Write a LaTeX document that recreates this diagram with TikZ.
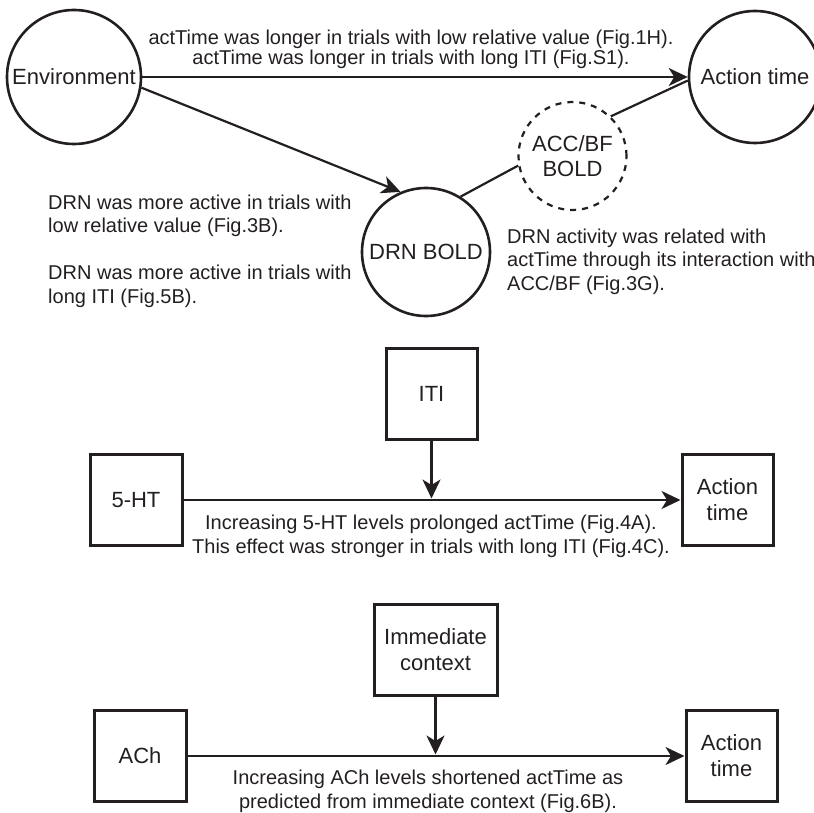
\documentclass[tikz,border=0pt]{standalone}
\usepackage{fontspec}
\setmainfont{Liberation Sans}
\usetikzlibrary{arrows.meta}

\definecolor{inkcol}{RGB}{35, 31, 32}
\definecolor{textcol}{RGB}{35, 31, 32}

\tikzset{
    bigcirc/.style={draw=inkcol, circle, line width=2.6pt, inner sep=0pt, minimum size=#1,
        font=\fontsize{22}{25}\selectfont, text=textcol, align=center},
    dashcirc/.style={bigcirc=#1, line width=2.2pt, dash pattern=on 6pt off 6pt},
    varbox/.style={draw=inkcol, rectangle, line width=3pt, inner sep=0pt, minimum width=#1,
        minimum height=91pt, font=\fontsize{22}{26}\selectfont, text=textcol, align=center},
    link/.style={inkcol, line width=2.2pt},
    linkarrow/.style={link, -{Stealth[length=19pt, width=18pt, inset=5.5pt]}},
    note/.style={font=\fontsize{20}{23.5}\selectfont, text=textcol, inner sep=0pt, anchor=base},
}

\begin{document}
\begin{tikzpicture}[x=1pt, y=-1pt]
    \clip (0,0) rectangle (814,813);

    % Top panel: environment, DRN and action time
    \node[bigcirc=134pt] (env) at (74,77) {Environment};
    \node[bigcirc=132pt] (act) at (755,77) {Action time};
    \node[dashcirc=108pt] (acc) at (572.5,156) {ACC/BF\\BOLD};
    \node[bigcirc=128pt] (drn) at (426,252) {DRN BOLD};

    \draw[linkarrow] (env) -- (act);
    \draw[linkarrow] (env.-9) -- (drn.113);
    \draw[link] (drn.58) -- (acc.190);
    \draw[link] (acc.46) -- (act.183);

    % base anchor sits on the last line of each note
    \node[note, align=center, font=\fontsize{20}{20.5}\selectfont] (envnote) at (411,65)
        {actTime was longer in trials with low relative value (Fig.1H).\\
         actTime was longer in trials with long ITI (Fig.S1).};
    \node[note, align=left, anchor=base west] (drnnote) at (48,303)
        {DRN was more active in trials with\\low relative value (Fig.3B).\\[23.5pt]
         DRN was more active in trials with\\long ITI (Fig.5B).};
    \node[note, align=left, anchor=base west] (accnote) at (507,290)
        {DRN activity was related with\\actTime through its interaction with\\ACC/BF (Fig.3G).};

    % Middle panel: 5-HT
    \node[varbox=92pt] (ht) at (136,500) {5-HT};
    \node[varbox=91pt] (iti) at (431.5,393.5) {ITI};
    \node[varbox=91pt] (act2) at (727.5,500) {Action\\time};
    \coordinate (itihit) at (iti.south |- ht.east);

    \draw[linkarrow] (ht) -- (act2);
    \draw[linkarrow, shorten >=1.5pt] (iti) -- (itihit);

    \node[note, align=center] (htnote) at (431,553)
        {Increasing 5-HT levels prolonged actTime (Fig.4A).\\
         This effect was stronger in trials with long ITI (Fig.4C).};

    % Bottom panel: ACh
    \node[varbox=92pt] (ach) at (140,756) {ACh};
    \node[varbox=123pt] (imm) at (435.5,649.5) {Immediate\\context};
    \node[varbox=91pt] (act3) at (731.5,756) {Action\\time};
    \coordinate (immhit) at (imm.south |- ach.east);

    \draw[linkarrow] (ach) -- (act3);
    \draw[linkarrow, shorten >=1.5pt] (imm) -- (immhit);

    \node[note, align=center] (achnote) at (428,808)
        {Increasing ACh levels shortened actTime as\\
         predicted from immediate context (Fig.6B).};

\end{tikzpicture}
\end{document}
